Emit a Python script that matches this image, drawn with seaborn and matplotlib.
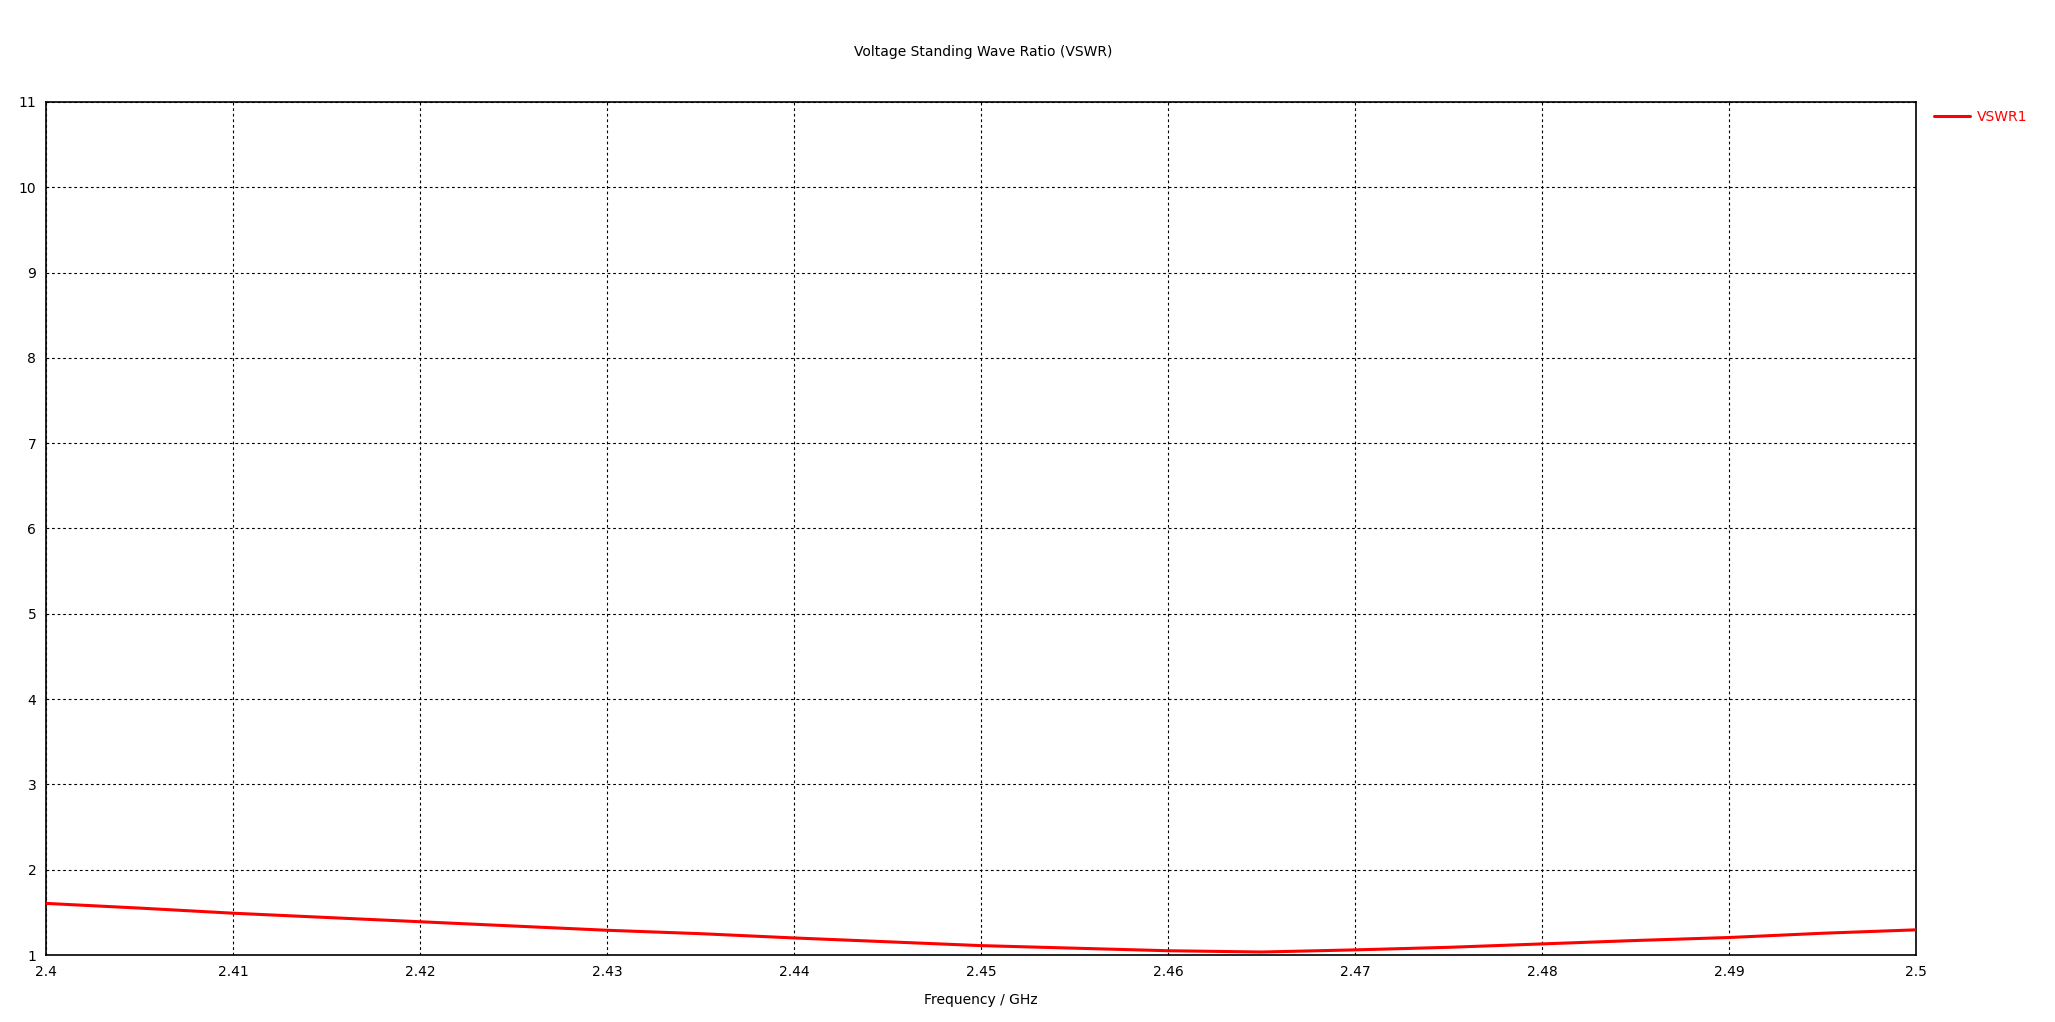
import matplotlib
matplotlib.use("Agg")
import matplotlib.pyplot as plt
import seaborn as sns
import pandas as pd
from matplotlib.lines import Line2D

freq_ghz = [2.400, 2.405, 2.410, 2.415, 2.420, 2.425, 2.430, 2.435, 2.440, 2.445,
            2.450, 2.455, 2.460, 2.465, 2.470, 2.475, 2.480, 2.485, 2.490, 2.495, 2.500]
vswr1 = [1.605, 1.55, 1.49, 1.44, 1.39, 1.34, 1.29, 1.25, 1.20, 1.155,
         1.11, 1.08, 1.05, 1.035, 1.06, 1.09, 1.13, 1.17, 1.205, 1.255, 1.295]
x_ticks = [2.40, 2.41, 2.42, 2.43, 2.44, 2.45, 2.46, 2.47, 2.48, 2.49, 2.50]
x_tick_labels = ["2.4", "2.41", "2.42", "2.43", "2.44", "2.45", "2.46", "2.47", "2.48", "2.49", "2.5"]
y_ticks = [1, 2, 3, 4, 5, 6, 7, 8, 9, 10, 11]

df = pd.DataFrame({"Frequency": freq_ghz, "VSWR": vswr1, "series": "VSWR1"})

sns.set_theme(style="white")
plt.rcParams['font.family'] = ['DejaVu Sans']

fig = plt.figure(figsize=(20.55, 10.22), dpi=100)
ax = fig.add_axes([46/2055, 1-955/1022, (1916-46)/2055, (955-102)/1022])

sns.lineplot(data=df, x="Frequency", y="VSWR", hue="series", palette=["#ff0000"],
             linewidth=2.2, ax=ax, legend=False, zorder=3)

ax.set_xlim(2.4, 2.5)
ax.set_ylim(1, 11)
ax.set_xticks(x_ticks)
ax.set_xticklabels(x_tick_labels)
ax.set_yticks(y_ticks)
ax.set_axisbelow(True)
ax.grid(True, color="black", linestyle=(0, (2.5, 2.5)), linewidth=0.8)
for s in ax.spines.values():
    s.set_color("black")
    s.set_linewidth(1.2)
ax.tick_params(axis="both", direction="out", length=4, width=1, color="black",
               labelsize=10, labelcolor="black", pad=3)
ax.set_xlabel("Frequency / GHz", fontsize=10, color="black", labelpad=10)
ax.set_ylabel("")
fig.text(983/2055, 1-52/1022, "Voltage Standing Wave Ratio (VSWR)", ha="center", va="center",
         fontsize=10, color="black")

handle = Line2D([], [], color="#ff0000", linewidth=2.2)
leg = fig.legend([handle], ["VSWR1"], loc="center left", bbox_to_anchor=(1934/2055, 1-117/1022),
                 frameon=False, fontsize=10, handlelength=2.6, handletextpad=0.5,
                 borderaxespad=0, borderpad=0)
for t in leg.get_texts():
    t.set_color("#ff0000")

fig.savefig("out.png", dpi=100, facecolor="white")
